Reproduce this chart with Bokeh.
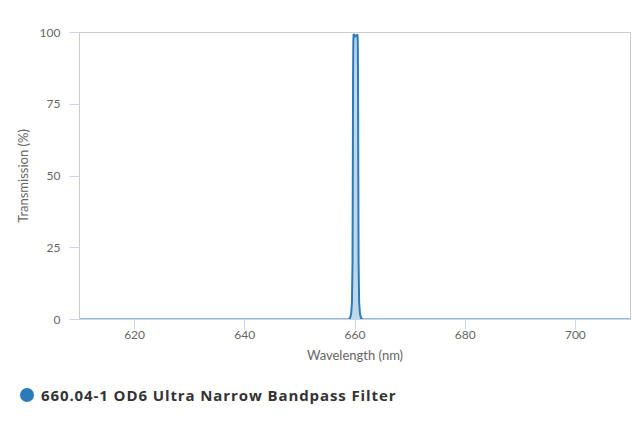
from bokeh.plotting import figure
from bokeh.layouts import column
from bokeh.models import FixedTicker, Div
from bokeh.embed import file_html
from bokeh.resources import INLINE

# transmission curve (nm, %)
wavelength = [610.0, 658.8, 659.1, 659.3, 659.45, 659.55, 659.6, 659.65, 659.7, 659.75,
              660.0, 660.2, 660.45, 660.5, 660.55, 660.6, 660.65, 660.75,
              660.9, 661.1, 661.4, 710.0]
transmission = [0.0, 0.0, 0.5, 2.0, 6.0, 20.0, 50.0, 85.0, 97.0, 99.5,
                98.5, 99.0, 99.3, 97.0, 85.0, 50.0, 20.0, 6.0,
                2.0, 0.5, 0.0, 0.0]
series_name = "660.04-1 OD6 Ultra Narrow Bandpass Filter"
x_ticks = [620, 640, 660, 680, 700]
y_ticks = [0, 25, 50, 75, 100]

blue = "#2b7bb9"
tick_font = "Lato"

p = figure(width=632, height=370, x_range=(610, 710), y_range=(0, 100),
           output_backend="svg", toolbar_location=None,
           min_border_left=79, min_border_top=32, min_border_right=2, min_border_bottom=51)

p.varea(x=wavelength, y1=0, y2=transmission, fill_color=blue, fill_alpha=0.3)
p.line(wavelength, transmission, line_color=blue, line_width=2)

# axes
p.grid.visible = False
p.outline_line_color = "#cccccc"
p.xaxis.ticker = FixedTicker(ticks=x_ticks)
p.yaxis.ticker = FixedTicker(ticks=y_ticks)
p.xaxis.axis_label = "Wavelength (nm)"
p.yaxis.axis_label = "Transmission (%)"
for ax in (p.xaxis, p.yaxis):
    ax.minor_tick_line_color = None
    ax.major_tick_line_color = "#ccd6eb"
    ax.major_tick_in = 0
    ax.major_tick_out = 10
    ax.major_label_text_font = tick_font
    ax.major_label_text_font_size = "12px"
    ax.major_label_text_color = "#666666"
    ax.axis_label_text_font = tick_font
    ax.axis_label_text_font_size = "13px"
    ax.axis_label_text_color = "#666666"
    ax.axis_label_text_font_style = "normal"
p.xaxis.axis_line_color = "#ccd6eb"
p.yaxis.axis_line_color = "#cccccc"
p.xaxis.major_label_standoff = 1
p.xaxis.axis_label_standoff = 5
p.yaxis.major_label_standoff = 9
p.yaxis.axis_label_standoff = 6

# legend strip under the chart
legend_html = (
    '<div style="display:flex;align-items:center;padding:15px 0 0 20px;">'
    f'<span style="display:inline-block;width:14px;height:14px;border-radius:50%;background:{blue};"></span>'
    '<span style="margin-left:7px;font-family:\'Open Sans\';font-weight:bold;font-size:15px;'
    f'letter-spacing:0.9px;color:#333333;line-height:20px;">{series_name}</span></div>'
)
leg = Div(text=legend_html, width=632, height=57, margin=0)

open("out.html", "w").write(file_html(column(p, leg, spacing=0), INLINE))
